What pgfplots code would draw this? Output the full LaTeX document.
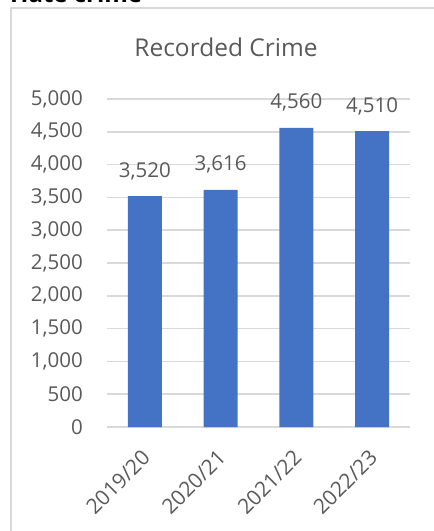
\documentclass[border=0pt]{standalone}
\usepackage{pgfplots}
\pgfplotsset{compat=1.18}
\usepackage{fontspec}
\setmainfont{Open Sans}
\definecolor{barblue}{HTML}{4472C4}
\definecolor{gridgrey}{HTML}{D9D9D9}
\definecolor{txtgrey}{HTML}{595959}
\begin{document}
\begin{tikzpicture}[x=1pt,y=1pt]
\path[use as bounding box] (0,0) rectangle (434,531);
\node[anchor=base west, font=\fontsize{24}{28}\selectfont\bfseries, inner sep=0pt] at (10,528) {Hate crime};
\draw[gridgrey, line width=2pt] (11,-5) -- (11,523) -- (440,523);
\node[anchor=base, text=txtgrey, font=\fontsize{24.5}{29}\selectfont, inner sep=0pt] at (226,474) {Recorded Crime};
\begin{axis}[
  at={(107pt,104pt)}, anchor=south west,
  scale only axis, width=303pt, height=328pt,
  ymin=0, ymax=5000, xmin=-0.5, xmax=3.5,
  axis line style={draw=none},
  major tick length=0pt,
  ymajorgrids, grid style={gridgrey, line width=1.7pt},
  ytick={0,500,...,5000},
  xtick=data,
  xticklabels={2019/20,2020/21,2021/22,2022/23},
  /pgf/number format/.cd, 1000 sep={,}, assume math mode=true,
  /pgfplots/.cd,
  tick label style={text=txtgrey, font=\fontsize{20.5}{24}\selectfont},
  yticklabel style={anchor=east, inner sep=0pt, xshift=-24pt},
  xticklabel style={rotate=45, anchor=east, inner sep=0pt, font=\fontsize{21}{24}\selectfont, xshift=-18pt, yshift=-20pt},
  clip=false,
]
\addplot[ybar, bar width=34pt, fill=barblue, draw=none,
  nodes near coords,
  nodes near coords style={anchor=base, inner sep=0pt, yshift=19pt, text=txtgrey, font=\fontsize{20.5}{24}\selectfont}]
  coordinates {(0,3520) (1,3616) (2,4560) (3,4510)};
\end{axis}
\end{tikzpicture}
\end{document}
